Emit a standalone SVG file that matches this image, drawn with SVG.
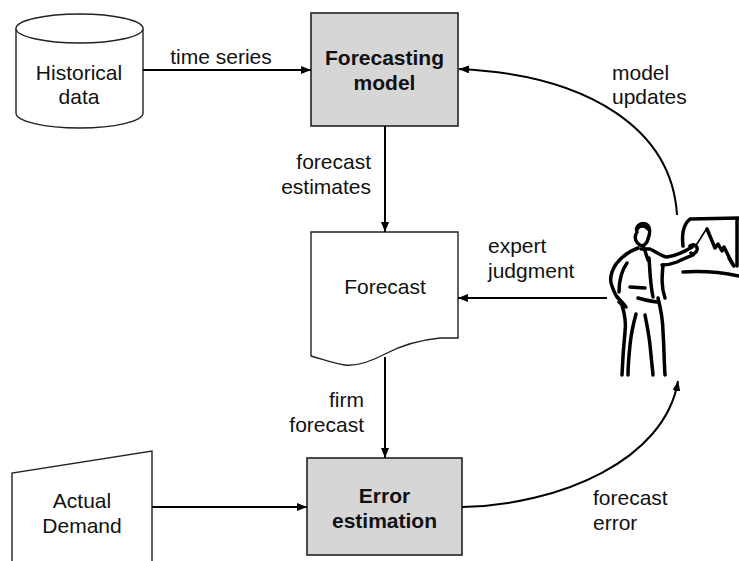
<svg xmlns="http://www.w3.org/2000/svg" width="739" height="561" viewBox="0 0 739 561">
  <defs>
    <marker id="arrow" markerUnits="userSpaceOnUse" markerWidth="10" markerHeight="8" refX="10" refY="4" orient="auto">
      <path d="M0,0 L10,4 L0,8 z" fill="#000"/>
    </marker>
    <style>
      .shape { fill: #fff; stroke: #222; stroke-width: 1.4; }
      .proc { fill: #d6d6d6; stroke: #222; stroke-width: 1.6; }
      .lbl { font-family: "Liberation Sans", Arial, sans-serif; font-size: 21px; fill: #111; }
      .bold { font-weight: bold; }
      .edge { fill: none; stroke: #000; stroke-width: 2; marker-end: url(#arrow); }
      .ink { fill: none; stroke: #000; stroke-width: 3.5; stroke-linecap: round; stroke-linejoin: round; }
      .thin { fill: none; stroke: #000; stroke-width: 1.6; stroke-linecap: round; }
    </style>
  </defs>
  <rect width="739" height="561" fill="#fff"/>

  <!-- Historical data store (cylinder) -->
  <g id="historical-data">
    <path class="shape" d="M16,28.5 A63.5,14.5 0 0 1 143,28.5 V113 A63.5,15 0 0 1 16,113 Z"/>
    <path class="shape" d="M16,28.5 A63.5,14.5 0 0 0 143,28.5" fill="none"/>
    <text class="lbl" x="79" y="80" text-anchor="middle">Historical</text>
    <text class="lbl" x="79" y="104" text-anchor="middle">data</text>
  </g>

  <!-- Forecasting model process -->
  <g id="forecasting-model">
    <rect class="proc" x="311" y="13" width="147" height="113"/>
    <text class="lbl bold" x="384.5" y="65" text-anchor="middle">Forecasting</text>
    <text class="lbl bold" x="384.5" y="90" text-anchor="middle">model</text>
  </g>

  <!-- Forecast document -->
  <g id="forecast">
    <path class="shape" d="M311,232 H458 V338 H440 C420,340 400,346 385,354 C370,362 355,366 345,365 C335,364 325,360 311,356 Z"/>
    <text class="lbl" x="385" y="294" text-anchor="middle">Forecast</text>
  </g>

  <!-- Actual demand (manual input) -->
  <g id="actual-demand">
    <path class="shape" d="M12,566 V473 L152,451 V566"/>
    <text class="lbl" x="82" y="508" text-anchor="middle">Actual</text>
    <text class="lbl" x="82" y="533" text-anchor="middle">Demand</text>
  </g>

  <!-- Error estimation process -->
  <g id="error-estimation">
    <rect class="proc" x="307" y="458" width="155" height="97"/>
    <text class="lbl bold" x="384.5" y="503" text-anchor="middle">Error</text>
    <text class="lbl bold" x="384.5" y="528" text-anchor="middle">estimation</text>
  </g>

  <!-- Expert presenting at a chart board -->
  <g id="expert">
    <!-- board -->
    <path class="ink" d="M683,246 C682,236 682,226 690,219 L739,218"/>
    <path class="ink" d="M683,272 C700,271 720,272 739,276"/>
    <path class="ink" d="M737,219 V266" stroke-width="2"/>
    <path class="ink" d="M707,229 L715,248 L718,244 L722,251 L724,247 L733,265" stroke-width="2.8"/>
    <path class="ink" d="M729,258 L734,266" stroke-width="5"/>
    <!-- pointer -->
    <path class="thin" d="M695,247 L707,228"/>
    <!-- head -->
    <path class="ink" d="M637,232 C635,226 641,222 646,224 C651,227 650,234 648,239 C647,244 643,247 640,245 C636,243 634,238 636,234"/>
    <path class="ink" d="M637,229 C640,225 645,225 648,229" stroke-width="4.5"/>
    <!-- tie and collar -->
    <path class="ink" d="M644,248 L648,260" stroke-width="2.4"/>
    <path class="ink" d="M641,249 L650,249" stroke-width="2.2"/>
    <!-- pointing arm -->
    <path class="ink" d="M652,250 C658,253 663,257 667,257 C674,256 681,254 692,247"/>
    <path class="ink" d="M662,265 C667,265 672,264 677,262 C683,259 688,257 693,255"/>
    <!-- hand at board -->
    <path class="ink" d="M690,246 C694,243 698,246 697,250 C696,253 693,255 691,253"/>
    <!-- shoulder and hanging arm -->
    <path class="ink" d="M638,248 C630,251 623,255 616,264 C611,272 609,279 612,286 C614,292 616,296 618,298"/>
    <path class="ink" d="M627,263 C622,270 619,279 619,292"/>
    <!-- hand at hip -->
    <path class="ink" d="M617,297 C620,300 623,303 626,307 C624,306 621,304 619,302"/>
    <!-- jacket -->
    <path class="ink" d="M649,258 C650,270 650,283 653,297"/>
    <path class="ink" d="M663,265 C662,276 661,287 665,298"/>
    <path class="ink" d="M630,287 L645,288" stroke-width="2.6"/>
    <path class="ink" d="M638,298 C644,300 650,301 657,302"/>
    <!-- legs -->
    <path class="ink" d="M622,305 C625,315 626,325 625,332 C624,342 623,352 622,375"/>
    <path class="ink" d="M636,314 C633,325 631,335 630,345 C629,355 628,365 628,375"/>
    <path class="ink" d="M645,315 C647,325 649,335 650,345 C651,355 652,365 653,375"/>
    <path class="ink" d="M658,298 C661,310 663,320 663,332 C664,345 664,360 665,375"/>
  </g>

  <!-- Connectors -->
  <g id="connectors">
    <path class="edge" d="M143,70 H311"/>
    <path class="edge" d="M385,126 V232"/>
    <path class="edge" d="M385,357 V458"/>
    <path class="edge" d="M152,507 H307"/>
    <path class="edge" d="M607,298 H458"/>
    <path class="edge" d="M677,215 C672,130 590,75 459,69"/>
    <path class="edge" d="M462,507 C560,505 665,460 678,381"/>
  </g>

  <!-- Connector labels -->
  <g id="labels">
    <text class="lbl" x="221" y="64" text-anchor="middle">time series</text>
    <text class="lbl" x="371" y="169" text-anchor="end">forecast</text>
    <text class="lbl" x="371" y="194" text-anchor="end">estimates</text>
    <text class="lbl" x="488" y="253">expert</text>
    <text class="lbl" x="488" y="278">judgment</text>
    <text class="lbl" x="612" y="80">model</text>
    <text class="lbl" x="612" y="104">updates</text>
    <text class="lbl" x="364" y="407" text-anchor="end">firm</text>
    <text class="lbl" x="364" y="432" text-anchor="end">forecast</text>
    <text class="lbl" x="593" y="505">forecast</text>
    <text class="lbl" x="593" y="530">error</text>
  </g>
</svg>
